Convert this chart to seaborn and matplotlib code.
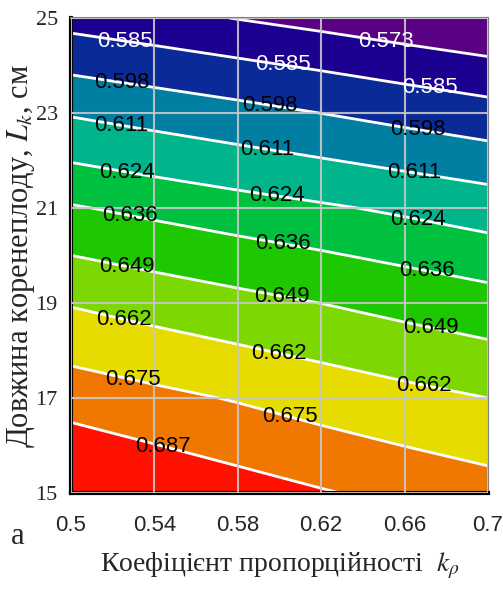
import numpy as np
import pandas as pd
import matplotlib
matplotlib.use("Agg")
import matplotlib.pyplot as plt
import seaborn as sns

# ---- data ----
k_values = [0.50, 0.54, 0.58, 0.62, 0.66, 0.70]          # x grid (k_rho)
L_values = [15, 17, 19, 21, 23, 25]                       # y grid (L_k, cm)
z_L15 = [0.7012, 0.6966, 0.6921, 0.6879, 0.6840, 0.6802]
z_L17 = [0.6821, 0.6780, 0.6741, 0.6698, 0.6657, 0.6620]
z_L19 = [0.6611, 0.6568, 0.6527, 0.6489, 0.6448, 0.6409]
z_L21 = [0.6370, 0.6329, 0.6291, 0.6256, 0.6219, 0.6180]
z_L23 = [0.6099, 0.6059, 0.6020, 0.5979, 0.5937, 0.5897]
z_L25 = [0.5803, 0.5765, 0.5726, 0.5689, 0.5651, 0.5616]
levels = [0.573, 0.585, 0.598, 0.611, 0.624, 0.636, 0.649, 0.662, 0.675, 0.687]
x_ticks = [0.5, 0.54, 0.58, 0.62, 0.66, 0.7]
x_ticklabels = ["0.5", "0.54", "0.58", "0.62", "0.66", "0.7"]
y_ticks = [15, 17, 19, 21, 23, 25]
band_colors = ["#5a0082", "#1c0090", "#0a2a98", "#007fa3", "#00b48c",
               "#00c040", "#1ec800", "#7cd800", "#e6dc00", "#f07800", "#ff1000"]
white_label_levels = [0.573, 0.585]
label_positions = [
    (0.5259, 24.49), (0.5245, 23.69), (0.5245, 22.81), (0.5274, 21.86),
    (0.5283, 20.89), (0.5274, 19.86), (0.5259, 18.74), (0.5307, 17.53),
    (0.5442, 15.97),
    (0.6018, 24.05), (0.5955, 23.23), (0.5946, 22.31), (0.5993, 21.38),
    (0.6018, 20.31), (0.6013, 19.21), (0.6003, 18.05), (0.6061, 16.75),
    (0.6511, 24.58), (0.6722, 23.59), (0.6665, 22.75), (0.6651, 21.84),
    (0.6665, 20.81), (0.6713, 19.76), (0.6732, 18.64), (0.6699, 17.38),
]

df = pd.DataFrame([z_L15, z_L17, z_L19, z_L21, z_L23, z_L25],
                  index=L_values, columns=k_values)

sns.set_style("white")
plt.rcParams["font.family"] = ["Liberation Serif", "DejaVu Serif"]
plt.rcParams["mathtext.fontset"] = "stix"
SANS = ["Liberation Sans", "DejaVu Sans"]

fig = plt.figure(figsize=(5.03, 5.89), dpi=100)
ax = fig.add_axes([71 / 503, 96 / 589, 417 / 503, 475 / 589])

X, Y = np.meshgrid(df.columns.values.astype(float), df.index.values.astype(float))
Z = df.values
fill_levels = [min(Z.min(), levels[0]) - 0.01] + levels + [max(Z.max(), levels[-1]) + 0.01]
palette = sns.color_palette(band_colors)
ax.contourf(X, Y, Z, levels=fill_levels, colors=palette)
cs = ax.contour(X, Y, Z, levels=levels, colors="white", linewidths=2.0)
texts = ax.clabel(cs, levels, manual=label_positions, inline=False,
                  fmt="%.3f", fontsize=16, colors="black")
for t in texts:
    t.set_rotation(0)
    t.set_fontfamily(SANS)
    t.set_fontsize(16)
    try:
        v = float(t.get_text())
    except ValueError:
        v = None
    if v is not None and any(abs(v - w) < 1e-6 for w in white_label_levels):
        t.set_color("white")

ax.set_xlim(0.5, 0.7)
ax.set_ylim(15, 25)
ax.set_xticks(x_ticks)
ax.set_xticklabels(x_ticklabels, fontfamily=SANS, fontsize=16)
ax.set_yticks(y_ticks)
ax.set_yticklabels([str(v) for v in y_ticks], fontsize=16)
ax.set_axisbelow(False)
ax.grid(True, color="#c8c8c8", linewidth=1.5, alpha=0.9)

ax.tick_params(axis="both", direction="inout", length=15, width=2, color="black")
ax.tick_params(axis="x", pad=8)
ax.tick_params(axis="y", pad=2)

for side in ["left", "bottom"]:
    ax.spines[side].set_color("black")
    ax.spines[side].set_linewidth(3)
for side in ["top", "right"]:
    ax.spines[side].set_color("#808080")
    ax.spines[side].set_linewidth(1.5)

secx = ax.secondary_xaxis("top")
secx.set_xticks(x_ticks)
secx.set_xticklabels([])
secx.tick_params(direction="in", length=6, width=1.5, color="#404040")
secx.spines["top"].set_visible(False)
secy = ax.secondary_yaxis("right")
secy.set_yticks(y_ticks)
secy.set_yticklabels([])
secy.tick_params(direction="in", length=6, width=1.5, color="#404040")
secy.spines["right"].set_visible(False)

ax.set_xlabel("Коефіцієнт пропорційності  $k_{\\rho}$", fontsize=20, labelpad=11)
ax.set_ylabel("Довжина коренеплоду, $L_k$, см", fontsize=22, labelpad=-1)

fig.text(18 / 503, 1 - 536 / 589, "а", fontsize=22, ha="center", va="center")

fig.savefig("out.png", dpi=100)
